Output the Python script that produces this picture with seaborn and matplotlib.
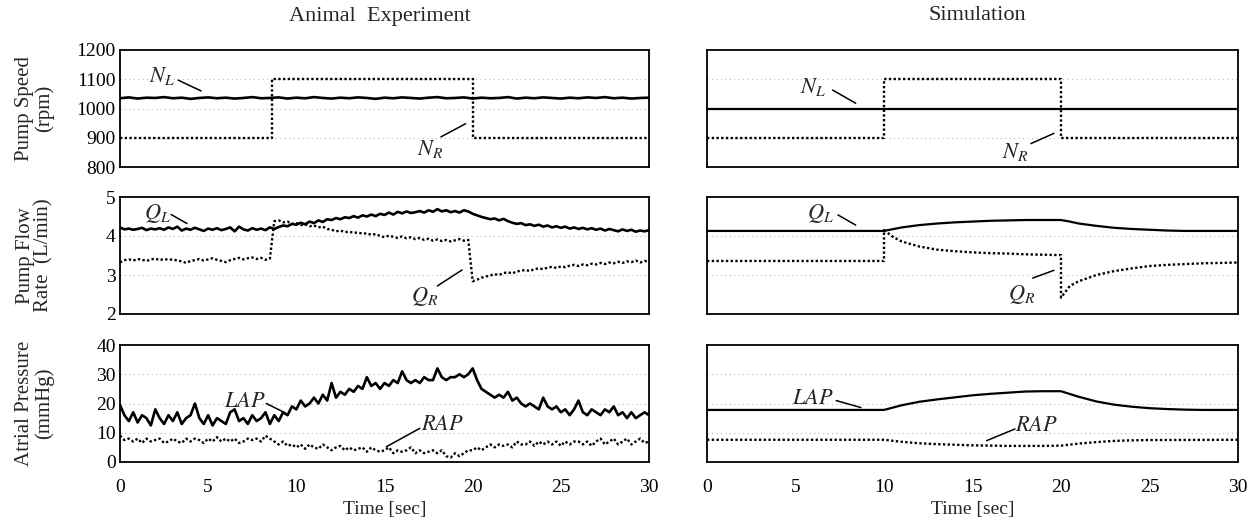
#!/usr/bin/env python3

"""
Pump speed, pump flow and atrial pressure: animal experiment vs simulation.
"""

import numpy as np
import matplotlib
matplotlib.use("Agg")
import matplotlib.pyplot as plt
import seaborn as sns

# -----------------------------------------------------------------------------
# Data
# -----------------------------------------------------------------------------
# Animal experiment, pump speed (rpm)
exp_nl_t = np.arange(0, 30.01, 0.5)
exp_nl = [1035, 1038, 1034, 1037, 1036, 1039, 1035, 1037, 1033, 1036,
          1038, 1035, 1037, 1034, 1036, 1039, 1035, 1036, 1038, 1034,
          1037, 1035, 1039, 1036, 1034, 1037, 1035, 1038, 1036, 1033,
          1037, 1035, 1038, 1036, 1034, 1037, 1039, 1035, 1036, 1038,
          1034, 1037, 1035, 1036, 1039, 1034, 1037, 1035, 1038, 1036,
          1034, 1037, 1035, 1038, 1036, 1039, 1035, 1037, 1034, 1036, 1037]
exp_nr_t = [0, 8.6, 8.6, 20, 20, 30]
exp_nr = [900, 900, 1100, 1100, 900, 900]

# Animal experiment, flow (L/min), every 0.25 s
exp_q_t = np.arange(0, 30.01, 0.25)
exp_ql = [4.22, 4.17, 4.19, 4.16, 4.18, 4.21, 4.15, 4.19, 4.17, 4.20, 4.16, 4.22,
          4.18, 4.24, 4.14, 4.19, 4.16, 4.21, 4.17, 4.13, 4.19, 4.16, 4.20, 4.15,
          4.18, 4.22, 4.12, 4.24, 4.17, 4.14, 4.20, 4.16, 4.19, 4.15, 4.22, 4.18,
          4.23, 4.27, 4.25, 4.31, 4.29, 4.34, 4.30, 4.37, 4.33, 4.40, 4.36, 4.43,
          4.41, 4.46, 4.43, 4.48, 4.46, 4.51, 4.47, 4.53, 4.50, 4.55, 4.51, 4.57,
          4.54, 4.60, 4.55, 4.62, 4.58, 4.63, 4.59, 4.61, 4.64, 4.60, 4.66, 4.62,
          4.69, 4.63, 4.66, 4.61, 4.64, 4.60, 4.66, 4.63, 4.57, 4.53, 4.49, 4.46,
          4.43, 4.45, 4.40, 4.44, 4.38, 4.34, 4.31, 4.33, 4.28, 4.30, 4.26, 4.29,
          4.24, 4.27, 4.22, 4.25, 4.21, 4.24, 4.19, 4.22, 4.18, 4.21, 4.17, 4.20,
          4.16, 4.19, 4.14, 4.18, 4.15, 4.12, 4.17, 4.13, 4.16, 4.11, 4.14, 4.12,
          4.15]
exp_qr = [3.32, 3.38, 3.40, 3.37, 3.41, 3.39, 3.36, 3.40, 3.42, 3.38, 3.41, 3.39,
          3.40, 3.37, 3.35, 3.31, 3.36, 3.38, 3.41, 3.37, 3.40, 3.43, 3.39, 3.36,
          3.33, 3.38, 3.41, 3.44, 3.40, 3.43, 3.45, 3.41, 3.44, 3.39, 3.42, 4.38,
          4.40, 4.35, 4.37, 4.31, 4.33, 4.28, 4.30, 4.25, 4.27, 4.22, 4.24, 4.18,
          4.16, 4.12, 4.14, 4.10, 4.11, 4.08, 4.09, 4.06, 4.07, 4.03, 4.05, 4.00,
          3.97, 4.01, 3.98, 3.95, 3.99, 3.94, 3.97, 3.92, 3.95, 3.90, 3.93, 3.88,
          3.91, 3.87, 3.90, 3.86, 3.89, 3.92, 3.88, 3.90, 2.84, 2.88, 2.93, 2.96,
          2.99, 3.02, 3.00, 3.05, 3.07, 3.04, 3.09, 3.11, 3.13, 3.10, 3.15, 3.17,
          3.15, 3.19, 3.21, 3.18, 3.22, 3.20, 3.24, 3.26, 3.23, 3.27, 3.25, 3.29,
          3.27, 3.31, 3.28, 3.32, 3.30, 3.34, 3.31, 3.35, 3.33, 3.37, 3.32, 3.36,
          3.34]

# Animal experiment, atrial pressure (mmHg), every 0.25 s
exp_p_t = np.arange(0, 30.01, 0.25)
exp_lap = [19.5, 16, 14, 17, 13.5, 16, 15, 12.5, 18, 15, 13, 16,
           14, 17, 13, 15, 16, 20, 15, 13, 16, 12.5, 15, 14,
           13, 17, 18, 14, 15, 13, 16, 14, 15, 17, 13, 16,
           14, 17, 16, 19, 18, 21, 19, 20, 22, 20, 23, 21,
           27, 22, 24, 23, 25, 24, 26, 25, 29, 26, 27, 25,
           27, 26, 28, 27, 31, 28, 27, 28, 27, 29, 28, 28,
           32, 29, 28, 29, 29, 30, 29, 30, 32, 28, 25, 24,
           23, 22, 23, 22, 24, 21, 22, 20, 19, 20, 19, 18,
           22, 19, 18, 19, 17, 18, 16, 18, 21, 17, 16, 18,
           17, 16, 18, 17, 19, 16, 17, 15, 17, 15, 16, 17,
           16]
exp_rap = [9, 7.5, 8, 7, 8, 6.5, 8, 7, 7.5, 8, 6.5, 7, 8, 7, 6.5, 8,
           7, 8, 7.5, 6.5, 8, 7, 8.5, 7, 8, 7, 8, 6.5, 7, 8, 7.5, 8,
           7, 9, 8, 7, 6, 7, 5.5, 6, 5, 6, 4.5, 6, 5, 4.5, 6, 5,
           4, 5, 5.5, 4, 5, 4, 4.5, 5, 3.5, 5, 4, 3.5, 4, 5, 3, 4,
           3.5, 4, 5, 3, 4, 3, 3.5, 4, 3, 4, 2, 1.5, 3, 2, 3, 4,
           4, 5, 4, 5, 6, 5, 6, 5.5, 6, 5, 7, 6, 6, 7, 5.5, 7,
           6, 7, 6, 7, 5.5, 7, 6, 7, 7, 6, 7, 5.5, 7, 8, 6, 7,
           8, 6, 7, 8, 6, 7, 8, 6.5, 7]

# Simulation
sim_nl_t = [0, 30]
sim_nl = [1000, 1000]
sim_nr_t = [0, 10, 10, 20, 20, 30]
sim_nr = [900, 900, 1100, 1100, 900, 900]

sim_ql_t = [0, 10, 11, 12, 13, 14, 15, 16, 17, 18, 19, 20, 20.5, 21, 22, 23,
            24, 25, 26, 27, 28, 30]
sim_ql = [4.13, 4.13, 4.22, 4.28, 4.32, 4.35, 4.37, 4.39, 4.40, 4.41, 4.41,
          4.41, 4.37, 4.32, 4.26, 4.21, 4.18, 4.16, 4.14, 4.13, 4.13, 4.13]
sim_qr_t = [0, 10, 10, 10.5, 11, 12, 13, 14, 15, 16, 17, 18, 19, 20, 20,
            20.5, 21, 22, 23, 24, 25, 26, 27, 28, 30]
sim_qr = [3.36, 3.36, 4.15, 3.98, 3.86, 3.73, 3.65, 3.61, 3.58, 3.56, 3.55,
          3.53, 3.52, 3.51, 2.42, 2.72, 2.84, 3.00, 3.10, 3.17, 3.23, 3.26,
          3.28, 3.30, 3.32]

sim_lap_t = [0, 10, 11, 12, 13, 14, 15, 16, 17, 18, 19, 20, 21, 22, 23, 24,
             25, 26, 27, 28, 30]
sim_lap = [17.8, 17.8, 19.4, 20.6, 21.4, 22.1, 22.8, 23.3, 23.7, 24.1, 24.2,
           24.2, 22.3, 20.7, 19.6, 18.9, 18.4, 18.1, 17.9, 17.8, 17.8]
sim_rap_t = [0, 10, 11, 12, 13, 14, 15, 16, 17, 18, 19, 20, 21, 22, 23, 24,
             25, 30]
sim_rap = [7.6, 7.6, 6.9, 6.4, 6.1, 5.9, 5.7, 5.6, 5.5, 5.5, 5.5, 5.6, 6.3,
           6.8, 7.2, 7.4, 7.5, 7.6]

# Axis settings per row
row_ylabels = ["Pump Speed\n(rpm)", "Pump Flow\nRate  (L/min)",
               "Atrial Pressure\n(mmHg)"]
row_ylims = [(800, 1200), (2, 5), (0, 40)]
row_yticks = [[800, 900, 1000, 1100, 1200], [2, 3, 4, 5], [0, 10, 20, 30, 40]]
x_ticks = [0, 5, 10, 15, 20, 25, 30]

# -----------------------------------------------------------------------------
sns.set_theme(style="white")
plt.rcParams['font.family'] = ['Liberation Serif', 'DejaVu Serif']
plt.rcParams['mathtext.fontset'] = 'stix'

fig = plt.figure(figsize=(12.55, 5.21), dpi=100)

W, H = 1255, 521
col_x = [(120, 649), (707, 1238)]
row_y = [(50, 167), (197, 314), (345, 462)]

axes = [[None, None] for _ in range(3)]
for r, (y0, y1) in enumerate(row_y):
    for c, (x0, x1) in enumerate(col_x):
        axes[r][c] = fig.add_axes([x0 / W, 1 - y1 / H, (x1 - x0) / W,
                                   (y1 - y0) / H])

noisy = dict(color='black', lw=1.9, estimator=None, sort=False)
solid = dict(color='black', lw=1.6, estimator=None, sort=False)
dotted = dict(color='black', lw=1.7, linestyle=(0, (1, 1)), estimator=None,
              sort=False)

# Animal experiment
sns.lineplot(x=exp_nl_t, y=exp_nl, ax=axes[0][0], **noisy)
sns.lineplot(x=exp_nr_t, y=exp_nr, ax=axes[0][0], **dotted)
sns.lineplot(x=exp_q_t, y=exp_ql, ax=axes[1][0], **noisy)
sns.lineplot(x=exp_q_t, y=exp_qr, ax=axes[1][0], **dotted)
sns.lineplot(x=exp_p_t, y=exp_lap, ax=axes[2][0], **noisy)
sns.lineplot(x=exp_p_t, y=exp_rap, ax=axes[2][0], **dotted)

# Simulation
sns.lineplot(x=sim_nl_t, y=sim_nl, ax=axes[0][1], **solid)
sns.lineplot(x=sim_nr_t, y=sim_nr, ax=axes[0][1], **dotted)
sns.lineplot(x=sim_ql_t, y=sim_ql, ax=axes[1][1], **solid)
sns.lineplot(x=sim_qr_t, y=sim_qr, ax=axes[1][1], **dotted)
sns.lineplot(x=sim_lap_t, y=sim_lap, ax=axes[2][1], **solid)
sns.lineplot(x=sim_rap_t, y=sim_rap, ax=axes[2][1], **dotted)

for r in range(3):
    for c in range(2):
        ax = axes[r][c]
        ax.set_xlim(0, 30)
        ax.set_ylim(*row_ylims[r])
        ax.set_yticks(row_yticks[r])
        ax.set_xticks(x_ticks)
        for yv in row_yticks[r][1:-1]:
            ax.axhline(yv, color='#bbbbbb', lw=0.8, linestyle=(0, (1, 3)),
                       zorder=0)
        for s in ax.spines.values():
            s.set_color('black')
            s.set_linewidth(1.3)
        ax.tick_params(length=0, labelsize=14, colors='black')
        ax.tick_params(axis='x', pad=12)
        ax.tick_params(axis='y', pad=3)
        ax.set_xlabel('')
        ax.set_ylabel('')
        if c == 1:
            ax.set_yticklabels([])
        if r < 2:
            ax.set_xticklabels([])
        else:
            ax.set_xlabel('Time [sec]', fontsize=14)
            ax.xaxis.set_label_coords(0.5, -0.33)
    axes[r][0].set_ylabel(row_ylabels[r], fontsize=15, linespacing=1.0)
    axes[r][0].yaxis.set_label_coords(-0.125, 0.5)

fig.text(380 / W, 1 - 16 / H, 'Animal  Experiment', ha='center', va='center',
         fontsize=16)
fig.text(977 / W, 1 - 16 / H, 'Simulation', ha='center', va='center',
         fontsize=16)

# Curve labels with leader lines: (row, col, text, text pos, line start, line end)
labels = [
    (0, 0, r'$N_L$', (2.4, 1110), (3.3, 1097), (4.6, 1060)),
    (0, 0, r'$N_R$', (17.6, 860), (18.2, 903), (19.6, 948)),
    (0, 1, r'$N_L$', (6.0, 1075), (7.1, 1063), (8.4, 1018)),
    (0, 1, r'$N_R$', (17.4, 850), (18.3, 880), (19.6, 915)),
    (1, 0, r'$Q_L$', (2.1, 4.58), (2.9, 4.55), (3.8, 4.32)),
    (1, 0, r'$Q_R$', (17.3, 2.45), (18.0, 2.72), (19.4, 3.13)),
    (1, 1, r'$Q_L$', (6.4, 4.58), (7.4, 4.54), (8.4, 4.28)),
    (1, 1, r'$Q_R$', (17.8, 2.50), (18.4, 2.92), (19.6, 3.12)),
    (2, 0, r'$LAP$', (7.1, 20.5), (8.3, 20.0), (9.3, 17.0)),
    (2, 0, r'$RAP$', (18.3, 12.5), (17.0, 11.5), (15.1, 5.2)),
    (2, 1, r'$LAP$', (6.0, 21.5), (7.3, 21.0), (8.7, 18.6)),
    (2, 1, r'$RAP$', (18.6, 12.0), (17.4, 11.3), (15.8, 7.3)),
]
for r, c, txt, tpos, p0, p1 in labels:
    ax = axes[r][c]
    ax.text(tpos[0], tpos[1], txt, ha='center', va='center', fontsize=16)
    ax.plot([p0[0], p1[0]], [p0[1], p1[1]], color='black', lw=1.1)

fig.savefig('out.png', dpi=100)
